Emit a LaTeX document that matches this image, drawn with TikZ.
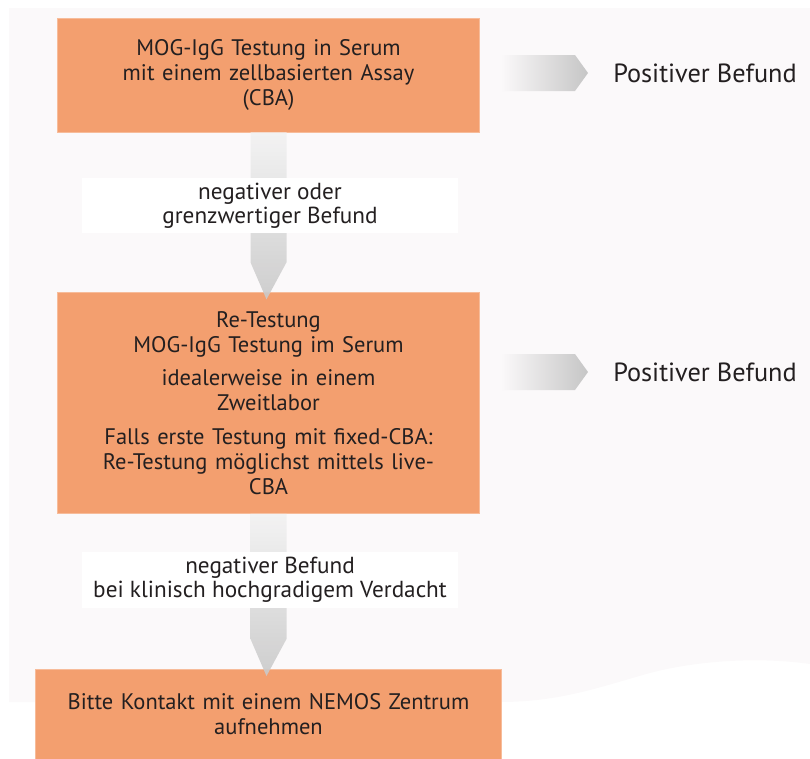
\documentclass[tikz,border=0pt]{standalone}
\usepackage{fontspec}
\setmainfont{PT Sans}
\usepackage{tikz}
\usetikzlibrary{calc}
\usetikzlibrary{positioning}
\definecolor{boxorange}{RGB}{243,159,111}
\definecolor{pagebg}{RGB}{251,249,250}
\definecolor{textdark}{RGB}{35,31,32}
\tikzset{
    stepbox/.style={
           rectangle,
           fill=boxorange,
           draw=boxorange!70!white, thin,
           inner sep=2pt,
           text width=10.4cm,
           align=center,
           text=textdark,
           font=\fontsize{16}{17.8}\selectfont,
           },
    cond/.style={
           rectangle,
           fill=white,
           minimum width=9.4cm,
           align=center,
           text=textdark,
           font=\fontsize{16.5}{17.4}\selectfont,
           },
    result/.style={
           inner sep=0pt,
           anchor=west,
           text=textdark,
           font=\fontsize{18.7}{20}\selectfont,
           },
}
% fat grey arrows between the boxes
\newcommand{\fatdown}[2]{%
  \shade[top color=gray!10, bottom color=gray!42, opacity=.9]
    ($(#1.south)+(-18,0)$) -- ($(#2.north)+(-18,-30)$) -- ($(#2.north)+(-2,7)$)
    -- ($(#2.north)+(18,-30)$) -- ($(#1.south)+(18,0)$) -- cycle;}
\newcommand{\fatright}[2]{%
  \shade[left color=pagebg, right color=gray!45]
    ($(#1.east |- #2.west)+(21,-18)$) -- ($(#2.west)+(-38,-18)$) -- ($(#2.west)+(-25,0)$)
    -- ($(#2.west)+(-38,18)$) -- ($(#1.east |- #2.west)+(21,18)$) -- cycle;}

\begin{document}
\begin{tikzpicture}[x=0.025cm,y=-0.025cm]
      \useasboundingbox (0,0) rectangle (810,758);
      \fill[pagebg] (9,8) -- (810,8) -- (810,664)
            .. controls (760,657) and (700,660) .. (650,673)
            .. controls (600,687) and (560,702) .. (500,702) -- (9,702) -- cycle;

      \node[stepbox, minimum height=2.85cm] (cba) at (268.5,75)
            {MOG-IgG Testung in Serum\\mit einem zellbasierten Assay\\(CBA)};
      \node[stepbox, minimum height=5.525cm] (retest) [below=4cm of cba]
            {Re-Testung\\MOG-IgG Testung im Serum\\[6pt]
             idealerweise in einem\\Zweitlabor\\[6pt]
             Falls erste Testung mit fixed-CBA:\\Re-Testung möglichst mittels live-\\CBA};
      \node[stepbox, text width=11.5cm, minimum height=2.25cm] (kontakt) [below=3.875cm of retest]
            {Bitte Kontakt mit einem NEMOS Zentrum\\aufnehmen};

      \node[result] (pos_1) at (613,73)  {Positiver Befund};
      \node[result] (pos_2) at (613,372) {Positiver Befund};

      \fatdown{cba}{retest}
      \fatdown{retest}{kontakt}
      \fatright{cba}{pos_1}
      \fatright{retest}{pos_2}

      \node[cond, minimum height=1.375cm] (neg_1) at (270,205.5)
            {negativer oder\\grenzwertiger Befund};
      \node[cond, minimum height=1.4cm] (neg_2) at (270,580)
            {negativer Befund\\bei klinisch hochgradigem Verdacht};
\end{tikzpicture}
\end{document}
